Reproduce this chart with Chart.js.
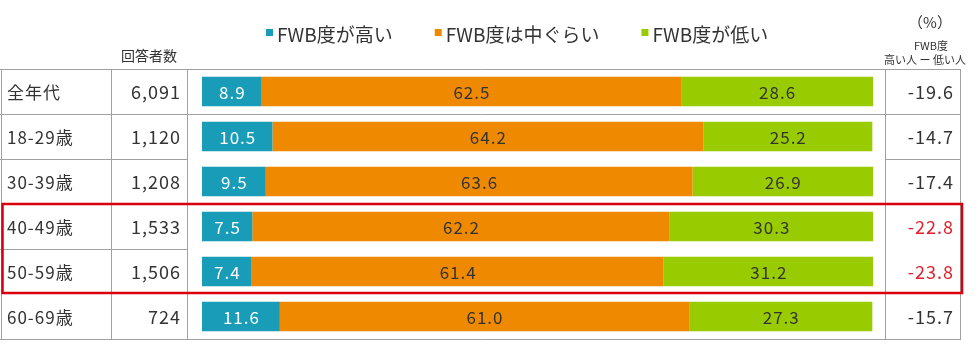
<!DOCTYPE html>
<html>
<head>
<meta charset="utf-8">
<script src="https://cdn.jsdelivr.net/npm/chart.js@4"></script>
<style>
  html, body { margin: 0; padding: 0; background: #fff; }
  #chart { display: block; }
</style>
</head>
<body>
<canvas id="chart" width="980" height="354"></canvas>
<script>
const FONT = '"Noto Sans CJK JP", "Noto Sans", sans-serif';

const ageGroups = ["全年代", "18-29歳", "30-39歳", "40-49歳", "50-59歳", "60-69歳"];
const respondents = ["6,091", "1,120", "1,208", "1,533", "1,506", "724"];
const highValues = [8.9, 10.5, 9.5, 7.5, 7.4, 11.6];
const midValues = [62.5, 64.2, 63.6, 62.2, 61.4, 61.0];
const lowValues = [28.6, 25.2, 26.9, 30.3, 31.2, 27.3];
const diffValues = [-19.6, -14.7, -17.4, -22.8, -23.8, -15.7];
const highlightRows = [3, 4];

const seriesNames = ["FWB度が高い", "FWB度は中ぐらい", "FWB度が低い"];
const seriesColors = ["#189cb8", "#ef8a00", "#99cc00"];
const labelColors = ["#ffffff", "#333333", "#333333"];

const GRID = "#a0a0a0";
const RED = "#d9000d";
const colX = [1, 111, 187, 885, 960];

const tablePlugin = {
  id: "tablePlugin",
  beforeDatasetsDraw(chart) {
    const { ctx, chartArea } = chart;
    const top = chartArea.top;
    const bottom = chartArea.bottom;
    const rowH = (bottom - top) / ageGroups.length;
    ctx.save();
    ctx.strokeStyle = GRID;
    ctx.lineWidth = 1;
    // vertical lines
    colX.forEach((x) => {
      ctx.beginPath();
      ctx.moveTo(x + 0.5, top);
      ctx.lineTo(x + 0.5, bottom);
      ctx.stroke();
    });
    // horizontal lines
    for (let i = 0; i <= ageGroups.length; i++) {
      const y = Math.round(top + i * rowH) + 0.5;
      let spans;
      if (i === 0 || i === 1 || i === ageGroups.length) spans = [[0, colX[4]]];
      else if (i === 2) spans = [[0, colX[2]], [colX[3], colX[4]]];
      else if (i === 4) spans = [[0, colX[2]]];
      else spans = []; // red box edges
      spans.forEach(([a, b]) => {
        ctx.beginPath();
        ctx.moveTo(a, y);
        ctx.lineTo(b + 1, y);
        ctx.stroke();
      });
    }
    ctx.restore();
  },
  afterDatasetsDraw(chart) {
    const { ctx, chartArea } = chart;
    const top = chartArea.top;
    const rowH = (chartArea.bottom - top) / ageGroups.length;
    ctx.save();

    // labels inside bars
    ctx.font = "17px " + FONT;
    ctx.letterSpacing = "1px";
    ctx.textAlign = "center";
    ctx.textBaseline = "middle";
    chart.data.datasets.forEach((ds, di) => {
      chart.getDatasetMeta(di).data.forEach((bar, i) => {
        ctx.fillStyle = labelColors[di];
        ctx.fillText(ds.data[i].toFixed(1), (bar.x + bar.base) / 2 + 0.5, bar.y + 1);
      });
    });

    // table columns
    ageGroups.forEach((label, i) => {
      const cy = top + (i + 0.5) * rowH + 1;
      ctx.fillStyle = "#333333";
      ctx.font = "17px " + FONT;
      ctx.letterSpacing = "1px";
      ctx.textAlign = "left";
      ctx.fillText(label, 7, cy);
      ctx.font = "18px " + FONT;
      ctx.textAlign = "right";
      ctx.fillText(respondents[i], 181, cy);
      ctx.fillStyle = highlightRows.includes(i) ? "#e0202a" : "#333333";
      ctx.fillText(diffValues[i].toFixed(1), 954, cy);
    });
    ctx.letterSpacing = "0px";

    // red highlight box
    const r0 = Math.min(...highlightRows);
    const r1 = Math.max(...highlightRows) + 1;
    ctx.strokeStyle = RED;
    ctx.lineWidth = 2.5;
    ctx.strokeRect(2.5, top + r0 * rowH, 959.5, (r1 - r0) * rowH - 1);

    // headers
    ctx.fillStyle = "#333333";
    ctx.textAlign = "center";
    ctx.font = "14px " + FONT;
    ctx.fillText("回答者数", 149, 56);
    ctx.font = "15px " + FONT;
    ctx.fillText("（%）", 930, 22);
    ctx.font = "11px " + FONT;
    ctx.fillText("FWB度", 931, 46);
    ctx.fillText("高い人 ー 低い人", 925, 60);

    // legend
    ctx.font = "19px " + FONT;
    ctx.textAlign = "left";
    let lx = 266;
    seriesNames.forEach((name, i) => {
      ctx.fillStyle = seriesColors[i];
      ctx.fillRect(lx, 29, 7, 7);
      ctx.fillStyle = "#333333";
      ctx.fillText(name, lx + 11, 35);
      lx += 11 + ctx.measureText(name).width + 42;
    });

    ctx.restore();
  },
};

const datasets = [highValues, midValues, lowValues].map((values, i) => ({
  label: seriesNames[i],
  data: values,
  backgroundColor: seriesColors[i],
  borderWidth: 0,
  categoryPercentage: 1,
  barPercentage: 0.66,
}));

new Chart(document.getElementById("chart"), {
  type: "bar",
  data: { labels: ageGroups, datasets },
  options: {
    indexAxis: "y",
    responsive: false,
    animation: false,
    layout: { padding: { left: 202, right: 107, top: 69, bottom: 15 } },
    scales: {
      x: { stacked: true, min: 0, max: 100, display: false },
      y: { stacked: true, display: false },
    },
    plugins: {
      legend: { display: false },
      tooltip: { enabled: false },
    },
  },
  plugins: [tablePlugin],
});
</script>
</body>
</html>
